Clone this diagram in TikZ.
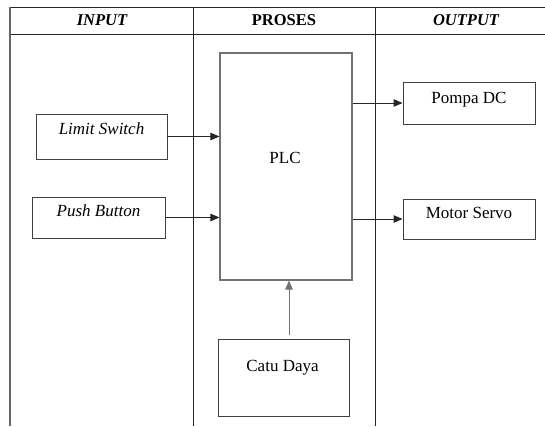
\documentclass[tikz,border=0pt]{standalone}
\usepackage{fontspec}
\setmainfont{Liberation Serif}
\usetikzlibrary{arrows.meta,calc}
\begin{document}
\begin{tikzpicture}[x=1pt,y=-1pt,
  every node/.style={font=\fontsize{17}{20}\selectfont},
  grid/.style={draw=black!85,line width=0.8pt},
  blockbox/.style={draw=black!75,line width=0.9pt,rectangle,inner sep=0pt},
  arr/.style={-{Triangle[length=9pt,width=7.5pt]},line width=0.9pt,draw=black!85},
  head/.style={font=\fontsize{16.5}{19}\selectfont\bfseries}]
\useasboundingbox (0,0) rectangle (545,426);

% table frame and column rules
\coordinate (tl) at (10,7);
\coordinate (tr) at (545,7);
\coordinate (hl) at (10,34.5);
\coordinate (hr) at (545,34.5);
\draw[grid] (tl) -- (tr);
\draw[grid] (hl) -- (hr);
\draw[grid,draw=black!60,line width=1.1pt] (10,7) -- (10,426);
\draw[grid] (193,7) -- (193,426);
\draw[grid] (375,7) -- (375,426);

% column headings
\node[head] (hin) at (102,20) {\itshape INPUT};
\node[head] (hpro) at (284,20) {PROSES};
\node[head] (hout) at (466,20) {\itshape OUTPUT};

% blocks
\node[blockbox,minimum width=131pt,minimum height=45pt,
  label={[anchor=north,yshift=-6pt]north:\itshape Limit Switch}] (ls) at (101.5,136.5) {};
\node[blockbox,minimum width=133pt,minimum height=41pt,
  label={[anchor=north,yshift=-5pt]north:\itshape Push Button}] (pb) at (98.5,217.5) {};
\node[blockbox,draw=black!55,line width=1.1pt,minimum width=132pt,minimum height=227pt] (plc) at (286,166.5) {};
\node (plctext) at ($(plc.center)+(-1,-9)$) {PLC};
\node[blockbox,minimum width=132pt,minimum height=42pt,
  label={[anchor=north,yshift=-7pt]north:Pompa DC}] (pompa) at (469,103) {};
\node[blockbox,minimum width=132pt,minimum height=40pt,
  label={[anchor=north,yshift=-5pt]north:Motor Servo}] (servo) at (469,219) {};
\node[blockbox,minimum width=131pt,minimum height=77pt] (catu) at (283.5,377.5) {};
\node (catutext) at ($(catu.center)+(-1,-10)$) {Catu Daya};

% connections
\draw[arr] (ls.east) -- (ls.east -| plc.west);
\draw[arr] (pb.east) -- (pb.east -| plc.west);
\draw[arr] (plc.east |- pompa.west) -- (pompa.west);
\draw[arr] (plc.east |- servo.west) -- (servo.west);
\coordinate (cfeed) at ($(catu.north)+(5.5,-4)$);
\draw[arr,draw=black!55] (cfeed) -- (cfeed |- plc.south);
\end{tikzpicture}
\end{document}
